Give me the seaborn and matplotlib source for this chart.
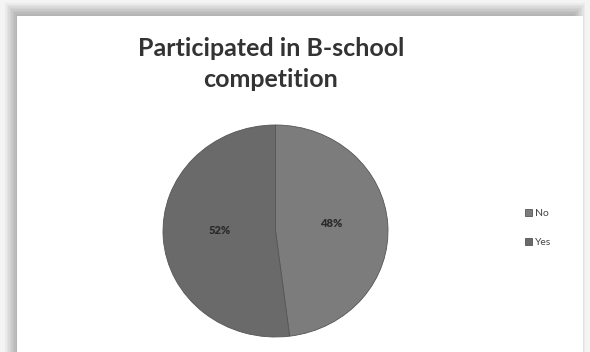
import matplotlib
matplotlib.use("Agg")
import matplotlib.pyplot as plt
import seaborn as sns
from matplotlib.patches import Rectangle

# Daten
kategorien = ["No", "Yes"]
anteile = [48, 52]
farben = ["#7c7c7c", "#6a6a6a"]
titel = "Participated in B-school\ncompetition"

sns.set_theme(style="white")
plt.rcParams["font.family"] = ["Lato", "DejaVu Sans"]

fig = plt.figure(figsize=(5.9, 3.52), dpi=100)
fig.patch.set_facecolor("#f4f4f4")

# weisser Rahmen mit weichem Schatten
W, H = 590, 352
for i in range(8):
    fig.add_artist(Rectangle(((5 + i * 1.5) / W, 0), (W - 10 - i * 3) / W, (H - 3 - i * 1.5) / H,
                             transform=fig.transFigure, facecolor="black", alpha=0.035,
                             edgecolor="none", zorder=0))
fig.add_artist(Rectangle((17 / W, 0), (583 - 17) / W, (H - 16) / H,
                         transform=fig.transFigure, facecolor="white",
                         edgecolor="none", zorder=1))

# Kreisdiagramm
ax = fig.add_axes([163 / W, 1 - 337 / H, 225 / W, 212 / H])
ax.set_zorder(2)
wedges, texts, autotexts = ax.pie(
    anteile, colors=farben, startangle=90, counterclock=False,
    autopct="%d%%", pctdistance=0.5,
    wedgeprops=dict(edgecolor="#555555", linewidth=0.6),
    textprops=dict(fontsize=8, fontweight="heavy", color="#2a2a2a"),
)
for t in autotexts:
    x, y = t.get_position()
    t.set_position((x, y + 0.04))
ax.set_aspect("auto")
ax.set_xlim(-1.0, 1.0)
ax.set_ylim(-1.0, 1.0)
ax.axis("off")

fig.text(271 / W, 1 - 64 / H, titel, ha="center", va="center",
         fontsize=18, fontweight="bold", color="#333333", zorder=3,
         linespacing=1.45)

fig.legend(wedges, kategorien, loc="center left",
           bbox_to_anchor=(516 / W, 1 - 228 / H), frameon=False,
           fontsize=7.5, handlelength=0.6, handleheight=0.6,
           labelspacing=1.9, handletextpad=0.3, labelcolor="#444444")

fig.savefig("out.png", dpi=100, facecolor=fig.get_facecolor())
